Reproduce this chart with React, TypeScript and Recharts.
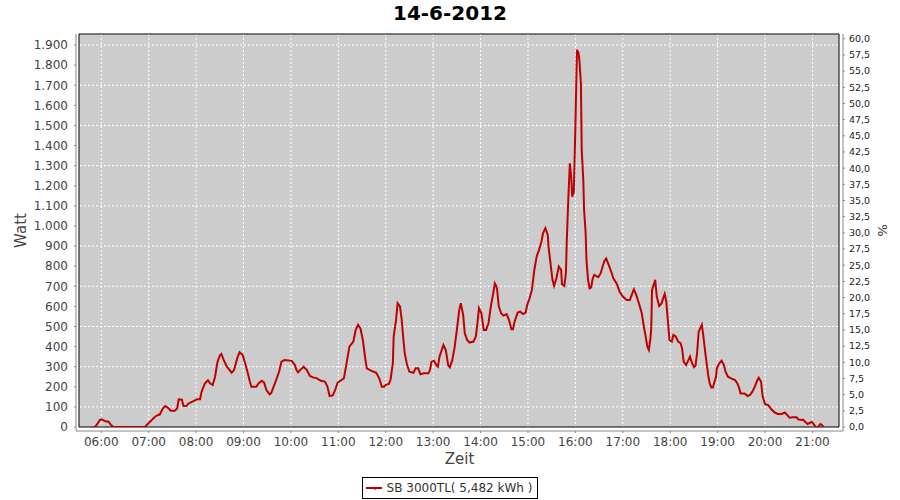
import React from 'react';
import { LineChart, Line, XAxis, YAxis, CartesianGrid, ReferenceArea, Legend } from 'recharts';

// readings of the inverter, [time, watt]
const morningReadings: [string, number][] = [
  ['05:49', 0], ['05:52', 0], ['05:55', 15], ['05:58', 35], ['06:00', 38], ['06:02', 35], ['06:06', 27],
  ['06:09', 27], ['06:12', 12], ['06:15', 0], ['06:55', 0], ['07:02', 27], ['07:08', 51], ['07:12', 60],
  ['07:14', 62], ['07:18', 93], ['07:21', 104], ['07:25', 93], ['07:28', 81], ['07:33', 81], ['07:36', 92],
  ['07:38', 138], ['07:42', 136], ['07:44', 105], ['07:48', 106], ['07:50', 116], ['07:54', 124],
  ['07:58', 131], ['08:01', 138], ['08:05', 138], ['08:07', 176], ['08:11', 216], ['08:15', 232],
  ['08:18', 216], ['08:21', 209], ['08:24', 250], ['08:27', 323], ['08:30', 355], ['08:32', 363],
  ['08:35', 333], ['08:39', 300], ['08:45', 270], ['08:48', 283], ['08:52', 342], ['08:55', 372],
  ['08:59', 358], ['09:02', 317], ['09:05', 275], ['09:08', 226], ['09:10', 200], ['09:16', 200],
  ['09:19', 217], ['09:23', 230], ['09:26', 222], ['09:29', 184], ['09:33', 163], ['09:35', 169],
  ['09:39', 209], ['09:42', 242], ['09:45', 275], ['09:48', 325], ['09:52', 333], ['10:01', 329],
  ['10:05', 308], ['10:07', 284], ['10:09', 272], ['10:12', 284], ['10:16', 300], ['10:20', 284],
  ['10:24', 254], ['10:28', 247], ['10:33', 242], ['10:38', 230], ['10:43', 226], ['10:46', 204],
  ['10:49', 154], ['10:53', 157], ['10:56', 184], ['10:59', 220],
];

const middayReadings: [string, number][] = [
  ['11:04', 234], ['11:07', 242], ['11:10', 308], ['11:14', 400], ['11:19', 425], ['11:22', 483],
  ['11:25', 508], ['11:28', 490], ['11:31', 433], ['11:34', 342], ['11:36', 292], ['11:42', 279],
  ['11:48', 270], ['11:52', 240], ['11:55', 200], ['11:58', 200], ['12:00', 210], ['12:04', 214],
  ['12:06', 234], ['12:09', 317], ['12:10', 449], ['12:13', 532], ['12:15', 616], ['12:18', 600],
  ['12:20', 541], ['12:22', 449], ['12:24', 367], ['12:27', 308], ['12:30', 275], ['12:35', 270],
  ['12:38', 292], ['12:41', 292], ['12:44', 262], ['12:48', 267], ['12:54', 267], ['12:56', 284],
  ['12:58', 325], ['13:01', 330], ['13:04', 308], ['13:06', 300], ['13:08', 350], ['13:13', 408],
  ['13:16', 383], ['13:19', 308], ['13:21', 297], ['13:24', 330], ['13:27', 392], ['13:30', 483],
  ['13:33', 582], ['13:35', 616], ['13:38', 557], ['13:40', 466], ['13:43', 433], ['13:46', 420],
  ['13:51', 425], ['13:54', 449], ['13:56', 516], ['13:58', 591], ['14:01', 566], ['14:04', 483],
  ['14:07', 483], ['14:10', 516], ['14:13', 600], ['14:16', 665], ['14:18', 715], ['14:20', 700],
  ['14:21', 682], ['14:23', 600], ['14:26', 566], ['14:29', 554], ['14:33', 562], ['14:36', 532],
  ['14:39', 486], ['14:41', 486], ['14:43', 524], ['14:47', 569], ['14:50', 574], ['14:54', 562],
  ['14:57', 569], ['14:59', 607],
];

const afternoonReadings: [string, number][] = [
  ['15:02', 640], ['15:05', 682], ['15:08', 781], ['15:11', 848], ['15:14', 881], ['15:17', 922],
  ['15:19', 964], ['15:22', 989], ['15:25', 955], ['15:26', 897], ['15:29', 798], ['15:31', 732],
  ['15:33', 702], ['15:36', 740], ['15:39', 798], ['15:42', 781], ['15:43', 710], ['15:46', 702],
  ['15:48', 765], ['15:49', 914], ['15:51', 1130], ['15:53', 1312], ['15:55', 1229], ['15:56', 1146],
  ['15:58', 1171], ['16:00', 1495], ['16:02', 1876], ['16:04', 1860], ['16:05', 1826], ['16:07', 1710],
  ['16:08', 1379], ['16:10', 1229], ['16:11', 1080], ['16:13', 964], ['16:14', 831], ['16:16', 732],
  ['16:18', 690], ['16:20', 695], ['16:22', 740], ['16:24', 757], ['16:29', 745], ['16:32', 765],
  ['16:35', 806], ['16:37', 828], ['16:39', 838], ['16:43', 798], ['16:46', 765], ['16:48', 740],
  ['16:52', 715], ['16:56', 673], ['17:00', 649], ['17:05', 632], ['17:09', 632], ['17:12', 665],
  ['17:14', 685], ['17:17', 657], ['17:21', 607], ['17:24', 566], ['17:27', 491], ['17:29', 449],
  ['17:31', 400], ['17:33', 383], ['17:35', 441], ['17:36', 491], ['17:37', 682], ['17:40', 718],
  ['17:41', 732], ['17:43', 649], ['17:46', 602], ['17:49', 615], ['17:51', 640], ['17:53', 662],
  ['17:55', 624], ['17:57', 532], ['17:59', 433],
];

const eveningReadings: [string, number][] = [
  ['18:02', 425], ['18:04', 458], ['18:07', 450], ['18:10', 425], ['18:13', 417], ['18:15', 392],
  ['18:17', 325], ['18:20', 308], ['18:23', 333], ['18:25', 350], ['18:27', 325], ['18:30', 298],
  ['18:32', 305], ['18:34', 367], ['18:36', 474], ['18:40', 508], ['18:42', 450], ['18:45', 350],
  ['18:47', 292], ['18:48', 259], ['18:50', 217], ['18:52', 197], ['18:54', 197], ['18:56', 225],
  ['18:58', 250], ['18:59', 292], ['19:02', 317], ['19:05', 330], ['19:08', 308], ['19:10', 275],
  ['19:13', 250], ['19:17', 242], ['19:22', 234], ['19:25', 217], ['19:27', 197], ['19:29', 167],
  ['19:34', 167], ['19:38', 154], ['19:41', 159], ['19:44', 176], ['19:47', 200], ['19:50', 230],
  ['19:52', 245], ['19:55', 225], ['19:57', 151], ['20:00', 114], ['20:04', 109], ['20:08', 88],
  ['20:12', 73], ['20:16', 65], ['20:21', 65], ['20:25', 72], ['20:28', 60], ['20:31', 46],
  ['20:35', 48], ['20:40', 48], ['20:42', 38], ['20:46', 35], ['20:48', 37], ['20:51', 25],
  ['20:54', 15], ['20:59', 25], ['21:01', 18], ['21:04', 0], ['21:07', 0], ['21:10', 15],
  ['21:12', 10], ['21:14', 0],
];

const timeTicks = ['06:00', '07:00', '08:00', '09:00', '10:00', '11:00', '12:00', '13:00',
  '14:00', '15:00', '16:00', '17:00', '18:00', '19:00', '20:00', '21:00'];
const wattTicks = [0, 100, 200, 300, 400, 500, 600, 700, 800, 900, 1000,
  1100, 1200, 1300, 1400, 1500, 1600, 1700, 1800, 1900];
const percentTicks = [0, 2.5, 5, 7.5, 10, 12.5, 15, 17.5, 20, 22.5, 25, 27.5, 30,
  32.5, 35, 37.5, 40, 42.5, 45, 47.5, 50, 52.5, 55, 57.5, 60];

const TITLE = '14-6-2012';
const SERIES_NAME = 'SB 3000TL( 5,482 kWh )';

const LINE_COLOR = '#c00000';
const FONT = '"DejaVu Sans", sans-serif';

const toMin = (s: string) => {
  const [h, m] = s.split(':').map(Number);
  return h * 60 + m;
};
const fmtTime = (v: number) =>
  `${String(Math.floor(v / 60)).padStart(2, '0')}:${String(v % 60).padStart(2, '0')}`;
const fmtWatt = (v: number) =>
  v >= 1000 ? `${Math.floor(v / 1000)}.${String(v % 1000).padStart(3, '0')}` : String(v);
const fmtPercent = (v: number) => v.toFixed(1).replace('.', ',');

const chartData = [...morningReadings, ...middayReadings, ...afternoonReadings, ...eveningReadings]
  .map(([time, watt]) => ({ t: toMin(time), watt }));

// axis ranges (auto range of the original chart incl. margins)
const X_MIN = 331.8;
const X_MAX = 1293.6;
const W_MAX = 1955;
const P_MAX = 60.73;

const WattTitle = (props: any) => {
  const { viewBox } = props;
  const x = 21;
  const y = viewBox.y + viewBox.height / 2 - 2;
  return (
    <text x={x} y={y} transform={`rotate(-90, ${x}, ${y})`} textAnchor="middle"
      dominantBaseline="central" fontSize={15} fontFamily={FONT} fill="#444">Watt</text>
  );
};

const PercentTitle = (props: any) => {
  const { viewBox } = props;
  const x = 882;
  const y = viewBox.y + viewBox.height / 2 - 2;
  return (
    <text x={x} y={y} transform={`rotate(90, ${x}, ${y})`} textAnchor="middle"
      dominantBaseline="central" fontSize={13} fontFamily={FONT} fill="#333">%</text>
  );
};

const ZeitTitle = (props: any) => {
  const { viewBox } = props;
  return (
    <text x={viewBox.x + viewBox.width / 2} y={viewBox.y + 33} textAnchor="middle"
      fontSize={15} fontFamily={FONT} fill="#444">Zeit</text>
  );
};

const renderLegend = () => (
  <div style={{ display: 'flex', justifyContent: 'center' }}>
    <div style={{
      display: 'flex', alignItems: 'center', height: 20, border: '1px solid #000',
      padding: '0 5px 0 2px', fontSize: 12, fontFamily: FONT, color: '#333', background: '#fff',
    }}>
      <svg width={18} height={8} style={{ marginRight: 4 }}>
        <line x1={1} y1={4} x2={17} y2={4} stroke={LINE_COLOR} strokeWidth={2} />
        <line x1={10} y1={4} x2={10} y2={6} stroke={LINE_COLOR} strokeWidth={1} />
      </svg>
      {SERIES_NAME}
    </div>
  </div>
);

export default function App() {
  const tickStyle = { fontSize: 12, fontFamily: FONT, fill: '#444' };
  return (
    <div style={{ position: 'absolute', left: 0, top: 0, width: 900, height: 500, background: '#fff' }}>
      <div style={{
        position: 'absolute', top: 1, left: 0, width: 900, textAlign: 'center',
        fontFamily: FONT, fontWeight: 'bold', fontSize: 20, lineHeight: '24px', color: '#000',
      }}>
        {TITLE}
      </div>
      <LineChart width={900} height={500} data={chartData}
        margin={{ top: 34, right: 0, bottom: 1, left: 0 }}>
        <ReferenceArea x1={X_MIN} x2={X_MAX} y1={0} y2={W_MAX} yAxisId="left"
          fill="#cccccc" fillOpacity={1} stroke="none" zIndex={-200} />
        <CartesianGrid yAxisId="left" stroke="#ffffff" strokeDasharray="2 2" />
        <ReferenceArea x1={X_MIN} x2={X_MAX} y1={0} y2={W_MAX} yAxisId="left"
          fill="none" stroke="#000" strokeWidth={1} zIndex={-50} />
        <XAxis dataKey="t" type="number" domain={[X_MIN, X_MAX]} allowDataOverflow
          ticks={timeTicks.map(toMin)} tickFormatter={fmtTime} height={46}
          padding={{ left: 3, right: 4 }} stroke="#888" tickSize={2} tickMargin={4}
          tick={tickStyle} label={<ZeitTitle />} />
        <YAxis yAxisId="left" orientation="left" type="number" domain={[0, W_MAX]} allowDataOverflow
          ticks={wattTicks} tickFormatter={fmtWatt} width={76} padding={{ top: 0, bottom: 4 }}
          stroke="#888" tickSize={2} tickMargin={6} tick={tickStyle} label={<WattTitle />} />
        <YAxis yAxisId="right" orientation="right" type="number" domain={[0, P_MAX]} allowDataOverflow
          ticks={percentTicks} tickFormatter={fmtPercent} width={57} padding={{ top: 0, bottom: 4 }}
          stroke="#888" tickSize={2} tickMargin={4}
          tick={{ fontSize: 9.5, fontFamily: FONT, fill: '#222' }} label={<PercentTitle />} />
        <Legend verticalAlign="bottom" align="center" content={renderLegend} />
        <Line yAxisId="left" type="linear" dataKey="watt" name={SERIES_NAME} stroke={LINE_COLOR}
          strokeWidth={2} dot={false} isAnimationActive={false} />
      </LineChart>
    </div>
  );
}
